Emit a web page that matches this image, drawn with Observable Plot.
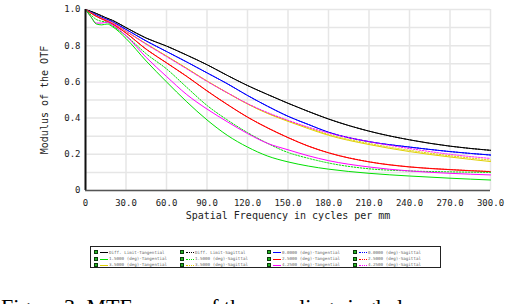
<!DOCTYPE html>
<html>
<head>
<meta charset="utf-8">
<script src="https://cdn.jsdelivr.net/npm/d3@7"></script>
<script src="https://cdn.jsdelivr.net/npm/@observablehq/plot@0.6"></script>
<style>
  html, body { margin: 0; padding: 0; background: #fff; }
  #wrap { position: relative; width: 506px; height: 304px; overflow: hidden; }
  #legend { position: absolute; left: 90px; top: 246px; width: 351px; height: 22px; border: 1px solid #222; box-sizing: border-box; background: #fff; }
  .ent { position: absolute; height: 6px; font: 4.2px "DejaVu Sans Mono", monospace; color: #666; white-space: nowrap; line-height: 6px; }
  .box { position: absolute; left: 0; top: 0.5px; width: 4px; height: 4px; background: #22b422; border: 0.6px solid #0a3a0a; box-sizing: border-box; }
  .sw { position: absolute; left: 6px; top: 2.5px; width: 8px; height: 0; border-top-width: 1px; }
  .lab { position: absolute; left: 15px; top: 0; }
  #caption { position: absolute; left: 1px; top: 296px; font: 22px "Liberation Serif", "Times New Roman", serif; line-height: 22px; color: #000; white-space: nowrap; }
</style>
</head>
<body>
<div id="wrap">
  <div id="chart"></div>
  <div id="legend"></div>
  <div id="caption">Figure 3: MTF curves of the coupling single lens</div>
</div>
<script>
// Spatial frequency samples (cycles per mm)
const freq = [0, 4, 8, 12, 16, 20, 30, 45, 60, 75, 90, 105, 120, 135, 150, 165, 180, 210, 240, 270, 300];

// Modulus of the OTF per series
const diffT   = [1, 0.99, 0.978, 0.965, 0.952, 0.94, 0.9, 0.842, 0.798, 0.748, 0.695, 0.636, 0.58, 0.53, 0.482, 0.437, 0.395, 0.328, 0.28, 0.245, 0.222];
const diffS   = [1, 0.99, 0.978, 0.965, 0.952, 0.94, 0.9, 0.842, 0.798, 0.748, 0.695, 0.636, 0.58, 0.53, 0.482, 0.437, 0.395, 0.328, 0.28, 0.245, 0.222];
const blueT   = [1, 0.985, 0.97, 0.957, 0.945, 0.932, 0.89, 0.826, 0.768, 0.71, 0.65, 0.59, 0.525, 0.465, 0.41, 0.365, 0.322, 0.27, 0.24, 0.215, 0.196];
const blueS   = [1, 0.985, 0.97, 0.957, 0.945, 0.932, 0.89, 0.826, 0.768, 0.71, 0.65, 0.59, 0.525, 0.465, 0.41, 0.365, 0.322, 0.27, 0.24, 0.215, 0.196];
const greenT  = [1, 0.96, 0.92, 0.915, 0.92, 0.905, 0.84, 0.715, 0.6, 0.49, 0.39, 0.305, 0.24, 0.19, 0.158, 0.135, 0.118, 0.095, 0.08, 0.068, 0.058];
const greenS  = [1, 0.97, 0.945, 0.935, 0.93, 0.91, 0.855, 0.755, 0.672, 0.57, 0.47, 0.39, 0.32, 0.26, 0.21, 0.178, 0.152, 0.12, 0.108, 0.103, 0.1];
const redT    = [1, 0.98, 0.962, 0.948, 0.935, 0.92, 0.87, 0.78, 0.705, 0.63, 0.55, 0.475, 0.405, 0.345, 0.292, 0.245, 0.208, 0.158, 0.13, 0.115, 0.104];
const redS    = [1, 0.98, 0.962, 0.948, 0.935, 0.92, 0.87, 0.781, 0.706, 0.631, 0.551, 0.476, 0.406, 0.346, 0.293, 0.246, 0.209, 0.159, 0.131, 0.116, 0.105];
const yellowT = [1, 0.982, 0.965, 0.952, 0.94, 0.927, 0.88, 0.81, 0.743, 0.675, 0.605, 0.54, 0.478, 0.425, 0.382, 0.342, 0.305, 0.254, 0.215, 0.185, 0.16];
const yellowS = [1, 0.982, 0.965, 0.952, 0.94, 0.927, 0.88, 0.809, 0.742, 0.674, 0.604, 0.54, 0.479, 0.427, 0.385, 0.346, 0.31, 0.26, 0.222, 0.192, 0.168];
const magT    = [1, 0.96, 0.925, 0.925, 0.93, 0.915, 0.855, 0.735, 0.63, 0.53, 0.45, 0.38, 0.315, 0.26, 0.225, 0.192, 0.165, 0.13, 0.108, 0.095, 0.086];
const magS    = [1, 0.982, 0.965, 0.952, 0.94, 0.927, 0.88, 0.808, 0.74, 0.672, 0.603, 0.54, 0.48, 0.43, 0.388, 0.35, 0.318, 0.27, 0.232, 0.2, 0.177];

// Legend labels (3 rows x 4 columns, row-major)
const labels = [
  "Diff. Limit-Tangential", "Diff. Limit-Sagittal",
  "0.0000 (deg)-Tangential", "0.0000 (deg)-Sagittal",
  "1.5000 (deg)-Tangential", "1.5000 (deg)-Sagittal",
  "2.5000 (deg)-Tangential", "2.5000 (deg)-Sagittal",
  "3.5000 (deg)-Tangential", "3.5000 (deg)-Sagittal",
  "4.2500 (deg)-Tangential", "4.2500 (deg)-Sagittal"
];
const seriesValues = [diffT, diffS, blueT, blueS, greenT, greenS, redT, redS, yellowT, yellowS, magT, magS];
const colors = ["#000000", "#000000", "#0000ff", "#0000ff", "#00e000", "#00e000", "#ff0000", "#ff0000", "#e0d000", "#e0d000", "#ff00ff", "#ff00ff"];
const sagittal = [false, true, false, true, false, true, false, true, false, true, false, true];

// Draw order (back to front)
const drawOrder = [1, 3, 7, 9, 0, 2, 8, 11, 6, 5, 10, 4];

const xTicks = [0, 30, 60, 90, 120, 150, 180, 210, 240, 270, 300];
const yTicks = [0, 0.2, 0.4, 0.6, 0.8, 1.0];
const xGrid = xTicks;
const yGrid = [0, 0.1, 0.2, 0.3, 0.4, 0.5, 0.6, 0.7, 0.8, 0.9, 1.0];

const fmt = d => d === 0 ? "0" : d.toFixed(1);

const lineMarks = drawOrder.map(i => {
  const rows = freq.map((f, k) => ({f, v: seriesValues[i][k]}));
  return Plot.line(rows, {
    x: "f", y: "v",
    stroke: colors[i],
    strokeWidth: 1,
    strokeDasharray: sagittal[i] ? "1.5,1.5" : null,
    curve: "monotone-x"
  });
});

const chart = Plot.plot({
  width: 506,
  height: 230,
  marginTop: 9,
  marginBottom: 40,
  marginLeft: 85,
  marginRight: 16,
  style: { fontFamily: "'DejaVu Sans Mono', monospace", fontSize: "9px", color: "#222", background: "#fff" },
  x: { domain: [0, 300] },
  y: { domain: [0, 1] },
  marks: [
    Plot.ruleX(xGrid, { stroke: "#e6e6e6", strokeWidth: 1.5 }),
    Plot.ruleY(yGrid, { stroke: "#e6e6e6", strokeWidth: 1.5 }),
    ...lineMarks,
    Plot.ruleX([0], { stroke: "#111", strokeWidth: 2 }),
    Plot.ruleY([0], { stroke: "#555", strokeWidth: 1.5 }),
    Plot.axisX({ ticks: xTicks, tickFormat: fmt, tickSize: 0, tickPadding: 9, label: null }),
    Plot.axisY({ ticks: yTicks, tickFormat: fmt, tickSize: 0, tickPadding: 5, label: null }),
    Plot.text(["Spatial Frequency in cycles per mm"], { frameAnchor: "bottom", lineAnchor: "middle", textAnchor: "middle", dy: 25, fontSize: 10, fill: "#222" }),
    Plot.text(["Modulus of the OTF"], { frameAnchor: "left", textAnchor: "middle", lineAnchor: "middle", dx: -41, rotate: -90, fontSize: 10, fill: "#222" })
  ]
});
document.getElementById("chart").appendChild(chart);

// Legend
const legend = document.getElementById("legend");
const colX = [3, 89, 176, 262];
const rowY = [2.5, 9, 15];
labels.forEach((lab, i) => {
  const r = Math.floor(i / 4), c = i % 4;
  const e = document.createElement("div");
  e.className = "ent";
  e.style.left = colX[c] + "px";
  e.style.top = rowY[r] + "px";
  const b = document.createElement("span"); b.className = "box";
  const s = document.createElement("span"); s.className = "sw";
  s.style.borderTopStyle = sagittal[i] ? "dotted" : "solid";
  s.style.borderTopColor = colors[i];
  const t = document.createElement("span"); t.className = "lab"; t.textContent = lab;
  e.appendChild(b); e.appendChild(s); e.appendChild(t);
  legend.appendChild(e);
});
</script>
</body>
</html>
